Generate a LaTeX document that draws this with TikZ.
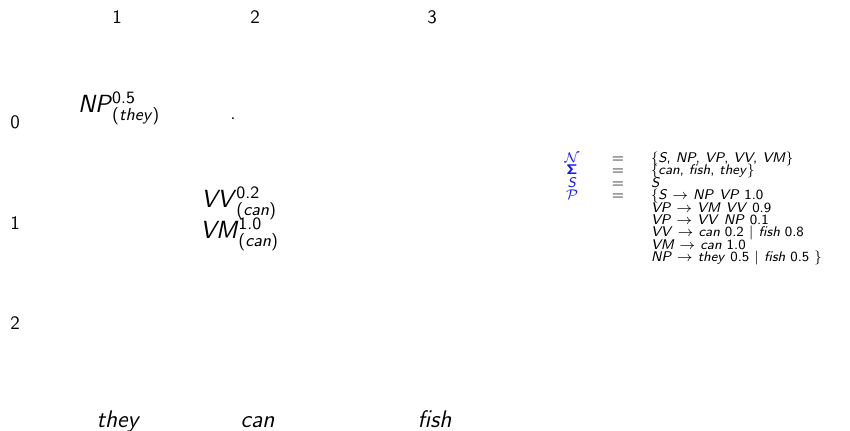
\documentclass[tikz,border=0pt]{standalone}
\usepackage{amsmath}
\usepackage{xcolor}
\renewcommand\familydefault{\sfdefault}
\definecolor{symblue}{RGB}{25,25,230}
% nonterminals and words are set in sans italic
\newcommand\nt[1]{\textit{#1}}
% chart cell: symbol with probability above and word below
\newcommand\cell[3]{\nt{#1}$^{\text{#2}}_{\text{(\nt{#3})}}$}
\newcommand\arr{\ $\rightarrow$\ }
\begin{document}
\begin{tikzpicture}[x=0.5pt,y=-0.5pt,
  every node/.style={inner sep=0pt,outer sep=0pt},
  idx/.style={font=\fontsize{9.5}{11}\selectfont},
  entry/.style={anchor=base west,font=\fontsize{12.4}{14}\selectfont},
  word/.style={anchor=base,font=\fontsize{12}{14}\selectfont\itshape},
  gsym/.style={anchor=base,text=symblue,font=\fontsize{7}{8}\selectfont},
  geq/.style={anchor=base,font=\fontsize{7}{8}\selectfont},
  grule/.style={anchor=base west,font=\fontsize{7}{8}\selectfont}]
\useasboundingbox (0,0) rectangle (850,430);

% column indices
\node[idx] (c1) at (117,17) {1};
\node[idx] (c2) at (255,17) {2};
\node[idx] (c3) at (432,17) {3};
% row indices
\node[idx] (r0) at (15,122) {0};
\node[idx] (r1) at (15,223) {1};
\node[idx] (r2) at (15,323) {2};

% chart entries
\node[entry] (np01) at (78,112) {\cell{NP}{0.5}{they}};
\node[idx,anchor=base] (dot02) at (233,119) {.};
\node[entry] (vv12) at (201,207) {\cell{VV}{0.2}{can}};
\node[entry] (vm12) at (200,238) {\cell{VM}{1.0}{can}};

% input words
\node[word] (w1) at (117.5,427) {they};
\node[word] (w2) at (257.5,427) {can};
\node[word] (w3) at (434.5,427) {fish};

% grammar definition
\node[gsym] (gN) at (572,162.5) {$\mathcal{N}$};
\node[gsym] (gS) at (572,174.9) {{\boldmath$\mathsf{\Sigma}$}};
\node[gsym] (gSt) at (572,187.3) {\nt{S}};
\node[gsym] (gP) at (572,199.7) {$\mathcal{P}$};
\node[geq] (e1) at (618,162.5) {$=$};
\node[geq] (e2) at (618,174.9) {$=$};
\node[geq] (e3) at (618,187.3) {$=$};
\node[geq] (e4) at (618,199.7) {$=$};
\node[grule] (g1) at (651,162.5) {\{\nt{S}, \nt{NP}, \nt{VP}, \nt{VV}, \nt{VM}\}};
\node[grule] (g2) at (651,174.9) {\{\nt{can}, \nt{fish}, \nt{they}\}};
\node[grule] (g3) at (651,187.3) {\nt{S}};
\node[grule] (g4) at (651,199.7) {\{\nt{S}\arr\nt{NP} \nt{VP} 1.0};
\node[grule] (g5) at (651,212.1) {\nt{VP}\arr\nt{VM} \nt{VV} 0.9};
\node[grule] (g6) at (651,224.5) {\nt{VP}\arr\nt{VV} \nt{NP} 0.1};
\node[grule] (g7) at (651,236.9) {\nt{VV}\arr\nt{can} 0.2 $|$ \nt{fish} 0.8};
\node[grule] (g8) at (651,249.3) {\nt{VM}\arr\nt{can} 1.0};
\node[grule] (g9) at (651,261.7) {\nt{NP}\arr\nt{they} 0.5 $|$ \nt{fish} 0.5 \}};
\end{tikzpicture}
\end{document}
